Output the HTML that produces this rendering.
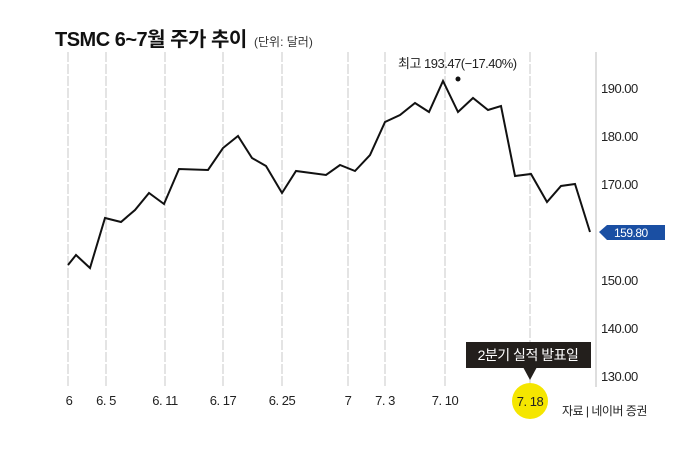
<!DOCTYPE html>
<html><head><meta charset="utf-8"><style>
body{margin:0;background:#fff;}
svg text{font-family:"Liberation Sans","Noto Sans CJK KR",sans-serif;fill:#222;}
</style></head><body>
<svg width="700" height="448" xmlns="http://www.w3.org/2000/svg">
<text x="55" y="46" font-size="20" font-weight="bold" letter-spacing="-0.5" style="fill:#111">TSMC 6~7월 주가 추이</text>
<text x="254" y="46" font-size="12" style="fill:#333">(단위: 달러)</text>
<g stroke="#c8c8c8" stroke-width="1" stroke-dasharray="10,2">
<line x1="68" y1="52" x2="68" y2="387"/>
<line x1="106" y1="52" x2="106" y2="387"/>
<line x1="165" y1="52" x2="165" y2="387"/>
<line x1="223" y1="52" x2="223" y2="387"/>
<line x1="282" y1="52" x2="282" y2="387"/>
<line x1="348" y1="52" x2="348" y2="387"/>
<line x1="385" y1="52" x2="385" y2="387"/>
<line x1="445" y1="52" x2="445" y2="387"/>
<line x1="530" y1="52" x2="530" y2="387"/>
</g>
<line x1="596" y1="52" x2="596" y2="387" stroke="#c8c8c8" stroke-width="1.2"/>
<g font-size="13" style="letter-spacing:-0.5px">
<text x="601" y="93">190.00</text>
<text x="601" y="141">180.00</text>
<text x="601" y="189">170.00</text>
<text x="601" y="285">150.00</text>
<text x="601" y="333">140.00</text>
<text x="601" y="381">130.00</text>
</g>
<polygon points="599,232 607,225 665,225 665,240 607,240" fill="#1a4fa3"/>
<text x="614" y="237" font-size="12" style="fill:#fff;letter-spacing:-0.5px">159.80</text>
<polyline fill="none" stroke="#111" stroke-width="2" stroke-linejoin="miter" points="68,265 76,255 90,268 105,218 121,222 135,210 149,193 164,204 179,169 208,170 223,148 238,136 252,158 266,166 282,193 296,171 326,175 340,165 355,171 370,155 385,122 400,115 415,103 429,112 443,81 458,112 473,98 488,110 501,106 515,176 531,174 547,202 561,186 575,184 590,232"/>
<circle cx="458" cy="79" r="2.5" fill="#111"/>
<text x="398" y="68" font-size="13" style="letter-spacing:-0.5px">최고 193.47(−17.40%)</text>
<g font-size="13" text-anchor="middle" style="letter-spacing:-0.5px">
<text x="69" y="405">6</text>
<text x="106" y="405">6. 5</text>
<text x="165" y="405">6. 11</text>
<text x="223" y="405">6. 17</text>
<text x="282" y="405">6. 25</text>
<text x="348" y="405">7</text>
<text x="385" y="405">7. 3</text>
<text x="445" y="405">7. 10</text>
</g>
<circle cx="530" cy="401" r="18" fill="#f5e600"/>
<text x="530" y="406" font-size="13" text-anchor="middle" style="letter-spacing:-0.5px">7. 18</text>
<rect x="466" y="342" width="125" height="26" fill="#231f1c"/>
<polygon points="523,367 537,367 530,380" fill="#231f1c"/>
<text x="528" y="360" font-size="14" text-anchor="middle" style="fill:#fff;letter-spacing:-0.5px">2분기 실적 발표일</text>
<text x="562" y="415" font-size="12" style="letter-spacing:-0.5px">자료 | 네이버 증권</text>
</svg>
</body></html>
